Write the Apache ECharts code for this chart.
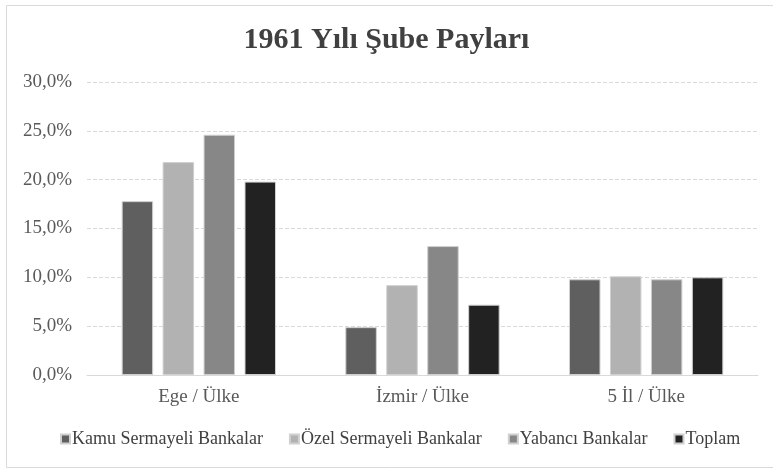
<!DOCTYPE html>
<html><head><meta charset="utf-8">
<script src="https://cdn.jsdelivr.net/npm/echarts@6/dist/echarts.min.js"></script>
<style>html,body{margin:0;padding:0;background:#fff}#c{width:773px;height:469px}</style>
</head><body><div id="c"></div>
<script>
const categories = ['Ege / Ülke', 'İzmir / Ülke', '5 İl / Ülke'];
const seriesNames = ['Kamu Sermayeli Bankalar', 'Özel Sermayeli Bankalar', 'Yabancı Bankalar', 'Toplam'];
const kamu = [17.8, 4.9, 9.8];
const ozel = [21.8, 9.2, 10.1];
const yabanci = [24.6, 13.2, 9.8];
const toplam = [19.8, 7.2, 10.0];
const colors = ['#5f5f5f', '#b2b2b2', '#878787', '#222222'];
const values = [kamu, ozel, yabanci, toplam];

const font = '"Liberation Serif", "Times New Roman", serif';
const chart = echarts.init(document.getElementById('c'));
chart.setOption({
  animation: false,
  graphic: [{type: 'rect', shape: {x: 6.5, y: 5.5, width: 800, height: 462}, style: {fill: 'none', stroke: '#d9d9d9', lineWidth: 1}, silent: true}],
  title: {text: '1961 Yılı Şube Payları', left: 'center', top: 20,
    textStyle: {fontFamily: font, fontSize: 30, fontWeight: 'bold', color: '#404040'}},
  legend: {top: 425, left: 55, itemWidth: 9, itemHeight: 9, itemGap: 26, icon: 'rect',
    textStyle: {fontFamily: font, fontSize: 18, color: '#404040', padding: [0,0,0,-3]},
    data: seriesNames},
  grid: {left: 87, right: 15, top: 82, bottom: 94},
  xAxis: {type: 'category', data: categories,
    axisLine: {lineStyle: {color: '#d9d9d9'}}, axisTick: {show: false},
    axisLabel: {fontFamily: font, fontSize: 19, color: '#595959', margin: 13}},
  yAxis: {type: 'value', min: 0, max: 30, interval: 5,
    axisLine: {show: false}, axisTick: {show: false},
    splitLine: {lineStyle: {color: '#d9d9d9', type: 'dashed'}},
    axisLabel: {fontFamily: font, fontSize: 19, color: '#595959', margin: 15,
      formatter: v => v.toFixed(1).replace('.', ',') + '%'}},
  series: seriesNames.map((n, i) => ({
    name: n, type: 'bar', data: values[i], barGap: '30%', barCategoryGap: '31%',
    itemStyle: {color: colors[i], borderColor: '#d0d0d0', borderWidth: 1}
  }))
});
</script></body></html>
